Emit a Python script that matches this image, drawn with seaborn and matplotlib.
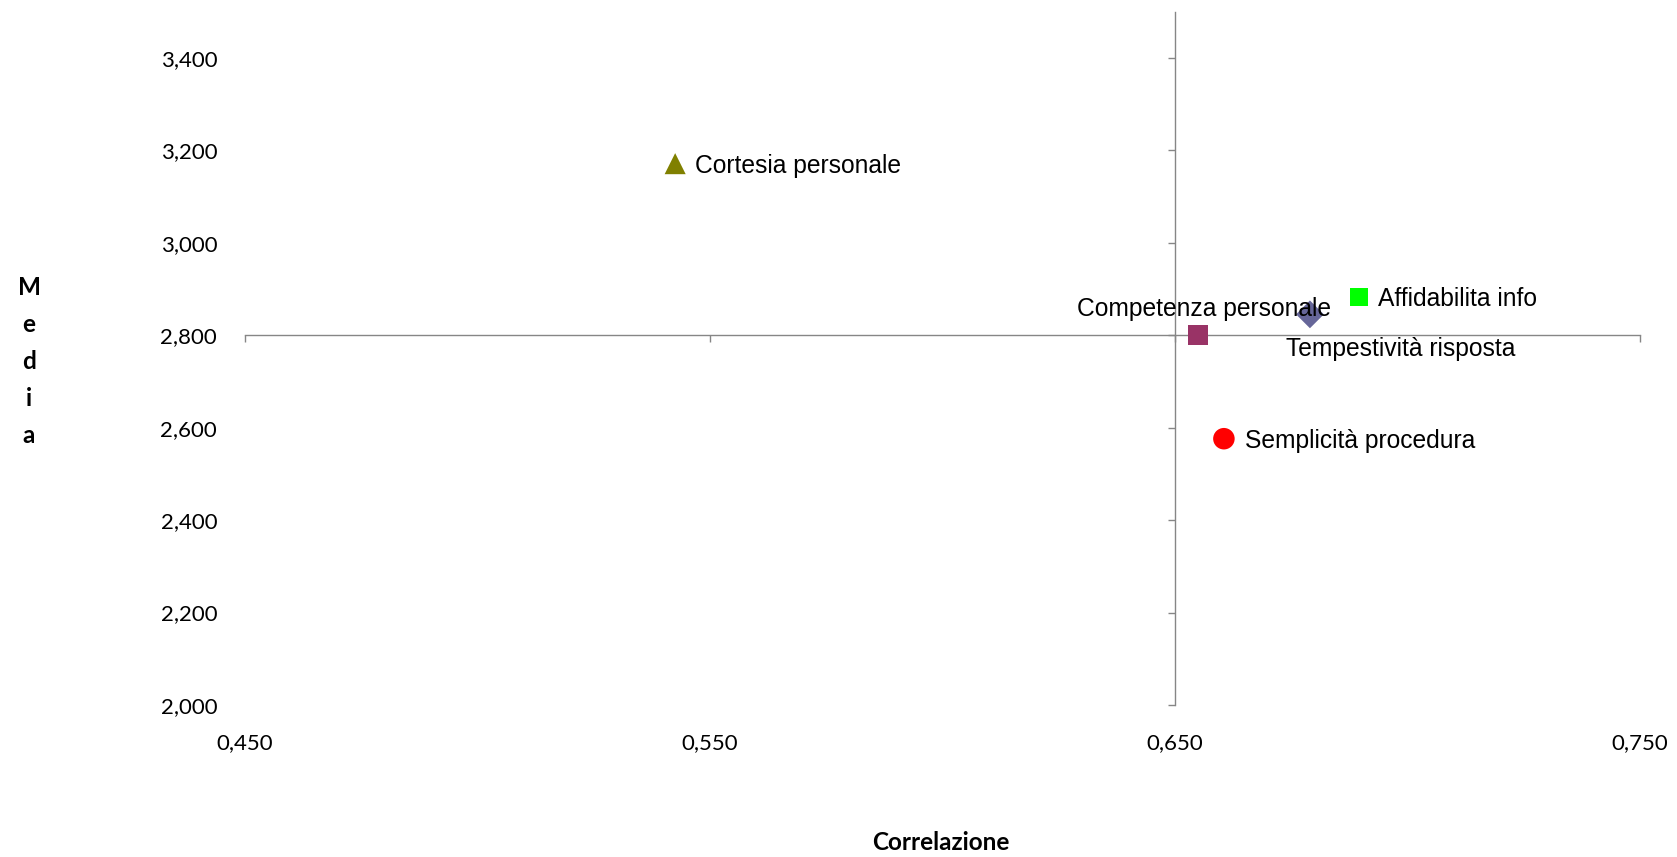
import matplotlib
matplotlib.use("Agg")
import matplotlib.pyplot as plt
import pandas as pd
import seaborn as sns
from matplotlib.ticker import FuncFormatter

# Data
labels = ["Tempestività risposta", "Competenza personale", "Affidabilita info",
          "Semplicità procedura", "Cortesia personale"]
correlazione = [0.679, 0.655, 0.6895, 0.6605, 0.5425]
media = [2.845, 2.801, 2.882, 2.576, 3.171]
x_ticks = [0.45, 0.55, 0.65, 0.75]
y_ticks = [2.0, 2.2, 2.4, 2.6, 2.8, 3.0, 3.2, 3.4]

df = pd.DataFrame({"label": labels, "correlazione": correlazione, "media": media})

markers = {"Tempestività risposta": "D", "Competenza personale": "s",
           "Affidabilita info": "s", "Semplicità procedura": "o",
           "Cortesia personale": "^"}
colors = {"Tempestività risposta": "#666699", "Competenza personale": "#993366",
          "Affidabilita info": "#00FF00", "Semplicità procedura": "#FF0000",
          "Cortesia personale": "#808000"}
sizes = {"Tempestività risposta": 200, "Competenza personale": 210,
         "Affidabilita info": 160, "Semplicità procedura": 240,
         "Cortesia personale": 230}
# label offsets in points (dx, dy, ha)
offsets = {"Tempestività risposta": (-17, -25, "left"),
           "Competenza personale": (4, 18.5, "center"),
           "Affidabilita info": (14, -1.5, "left"),
           "Semplicità procedura": (15, -1.5, "left"),
           "Cortesia personale": (14, -1.5, "left")}

sns.set_style("white")
plt.rcParams["font.family"] = ["Liberation Sans", "DejaVu Sans"]
plt.rcParams["text.color"] = "black"

fig = plt.figure(figsize=(16.77, 8.57), dpi=100)
pos = [0.1461, 0.1774, 0.978 - 0.1461, 0.9865 - 0.1774]
ax = fig.add_axes(pos)

sns.scatterplot(data=df, x="correlazione", y="media", hue="label", style="label",
                size="label", markers=markers, palette=colors, sizes=sizes,
                linewidth=0, legend=False, ax=ax, zorder=3)

for _, r in df.iterrows():
    dx, dy, ha = offsets[r["label"]]
    ax.annotate(r["label"], (r["correlazione"], r["media"]), xytext=(dx, dy),
                textcoords="offset points", ha=ha, va="center", fontsize=17.7,
                color="black", zorder=4)

ax.set_xlim(0.45, 0.75)
ax.set_ylim(2.0, 3.5)
ax.set_xticks(x_ticks)
ax.set_yticks(y_ticks)

# crossing axes through the data
grey = "#868686"
ax.spines["left"].set_position(("data", 0.65))
ax.spines["bottom"].set_position(("data", 2.8))
ax.spines["top"].set_visible(False)
ax.spines["right"].set_visible(False)
for s in ("left", "bottom"):
    ax.spines[s].set_color(grey)
    ax.spines[s].set_linewidth(1)
ax.tick_params(axis="both", direction="out", length=5, width=1, color=grey,
               bottom=True, left=True, labelleft=False, labelbottom=False)
ax.set_xlabel("")
ax.set_ylabel("")
ax.patch.set_alpha(0)

# overlay axes carrying the tick labels at the low position
ax2 = fig.add_axes(pos, sharex=ax, sharey=ax, zorder=-1)
for s in ax2.spines.values():
    s.set_visible(False)
fmt = FuncFormatter(lambda v, p: f"{v:.3f}".replace(".", ","))
ax2.xaxis.set_major_formatter(fmt)
ax2.yaxis.set_major_formatter(fmt)
ax2.tick_params(axis="both", length=0, labelsize=16, labelcolor="black")
ax2.tick_params(axis="x", pad=20)
ax2.tick_params(axis="y", pad=20)
for lab in ax2.get_xticklabels() + ax2.get_yticklabels():
    lab.set_fontfamily(["Lato", "DejaVu Sans"])
ax2.set_xlabel("")
ax2.set_ylabel("")

fig.text(0.561, 0.0175, "Correlazione", ha="center", va="center", fontsize=17.5,
         fontweight="bold", color="black", family=["Lato", "DejaVu Sans"])
fig.text(0.0173, 0.578, "M\ne\nd\ni\na", ha="center", va="center", fontsize=17.5,
         fontweight="bold", color="black", linespacing=1.73,
         family=["Lato", "DejaVu Sans"])

fig.savefig("out.png", dpi=100)
